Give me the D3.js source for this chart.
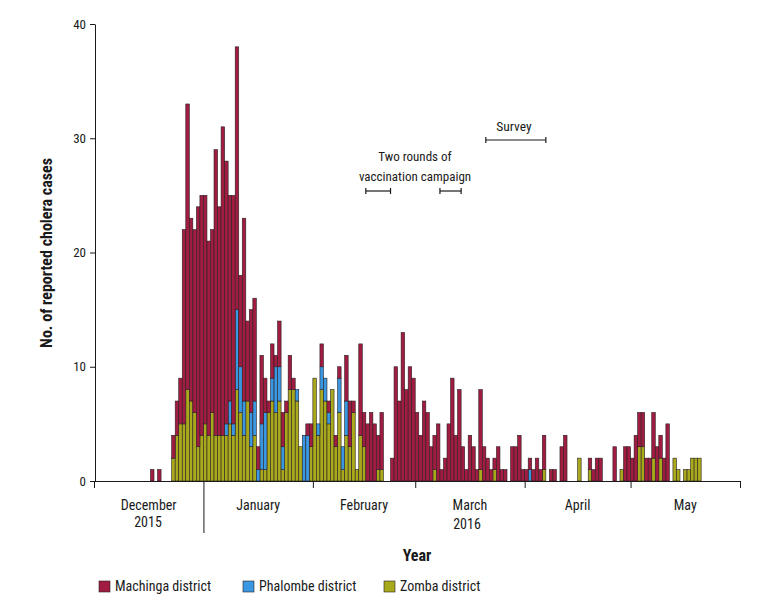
<!DOCTYPE html>
<html>
<head>
<meta charset="utf-8">
<script src="https://cdn.jsdelivr.net/npm/d3@7"></script>
<style>
    body { margin: 0; background: #fff; }
    text { font-family: "Liberation Sans Narrow", "Roboto Condensed", "DejaVu Sans Condensed", "Arial Narrow", sans-serif; fill: #1a1a1a; }
</style>
</head>
<body>
<svg id="chart" width="771" height="607"></svg>
<script>
// daily reported cases, one value per day from 1 Dec 2015 to 31 May 2016
const firstDay = "2015-12-01";

const machinga = [
    0,0,0,0,0,0,0,0,0,0,0,0,0,0,0,0,1,0,1,0,0,0,2,3,4,17,25,16,16,21,21,          // Dec
    20,17,16,25,20,27,23,18,20,23,8,16,7,9,9,2,6,3,1,3,1,4,3,1,3,1,0,0,0,1,2,     // Jan
    0,0,2,0,1,0,1,1,0,4,4,1,0,8,3,5,6,5,3,5,0,0,2,10,7,13,8,10,9,                 // Feb
    6,4,7,6,3,3,5,1,2,5,9,4,8,3,1,4,3,1,7,3,2,1,1,3,1,1,0,3,3,4,1,                // Mar
    1,1,1,2,1,3,0,1,1,0,3,4,0,0,0,0,0,0,1,1,2,2,0,0,0,3,0,0,3,3,                  // Apr
    2,4,3,3,2,2,4,3,2,2,5,0,0,0,0,0,0,0,0,0,0,0,0,0,0,0,0,0,0,0,0                 // May
];
const phalombe = [
    0,0,0,0,0,0,0,0,0,0,0,0,0,0,0,0,0,0,0,0,0,0,0,0,0,0,0,0,0,0,0,
    0,0,0,0,0,0,1,2,1,7,4,3,0,3,3,1,4,5,0,2,4,3,2,0,0,0,1,0,4,4,0,
    0,1,2,2,1,0,0,3,2,3,0,0,0,0,0,0,0,0,0,0,0,0,0,0,0,0,0,0,0,
    0,0,0,0,0,0,0,0,0,0,0,0,0,0,0,0,0,0,0,0,0,0,0,0,0,0,0,0,0,0,0,
    0,1,0,0,0,0,0,0,0,0,0,0,0,0,0,0,0,0,0,0,0,0,0,0,0,0,0,0,0,0,
    0,0,0,0,0,0,0,0,0,0,0,0,0,0,0,0,0,0,0,0,0,0,0,0,0,0,0,0,0,0,0
];
const zomba = [
    0,0,0,0,0,0,0,0,0,0,0,0,0,0,0,0,0,0,0,0,0,0,2,4,5,5,8,7,6,3,4,
    5,4,6,4,4,4,4,5,4,8,6,4,7,3,4,0,1,1,6,7,6,7,1,6,8,8,7,3,0,0,3,
    9,4,8,7,5,8,3,6,1,4,3,6,1,4,3,0,0,0,1,1,0,0,0,0,0,0,0,0,0,
    0,0,0,0,0,1,0,0,0,0,0,0,0,0,0,0,0,0,1,0,0,0,1,0,0,0,0,0,0,0,0,
    0,0,0,0,0,1,0,0,0,0,0,0,0,0,0,2,0,0,1,0,0,0,0,0,0,0,0,1,0,0,
    0,0,3,3,0,0,2,0,2,0,0,0,2,1,0,1,1,2,2,2,0,0,0,0,0,0,0,0,0,0,0
];

const districts = ["Machinga district", "Phalombe district", "Zomba district"];
const colours = ["#a01c40", "#3a98e2", "#a9a91c"];

const monthTicks = ["2015-12-01", "2016-01-01", "2016-02-01", "2016-03-01", "2016-04-01", "2016-05-01", "2016-06-01"];
const monthLabels = ["December", "January", "February", "March", "April", "May"];
const yTicks = [0, 10, 20, 30, 40];

const vaccinationRounds = [["2016-02-16", "2016-02-23"], ["2016-03-08", "2016-03-14"]];
const surveyPeriod = ["2016-03-21", "2016-04-07"];

const parse = d3.timeParse("%Y-%m-%d");
const svg = d3.select("#chart");

const x = d3.scaleTime().domain([parse(monthTicks[0]), parse(monthTicks[6])]).range([94, 740]);
const y = d3.scaleLinear().domain([0, 40]).range([481, 24]);

let start = parse(firstDay);
let rows = machinga.map((m, i) => {
    return { date: d3.timeDay.offset(start, i), machinga: m, phalombe: phalombe[i], zomba: zomba[i] };
});

// zomba at the bottom, machinga on top
let keys = ["zomba", "phalombe", "machinga"];
let series = d3.stack().keys(keys)(rows);

series.forEach((s, k) => {
    let colour = colours[2 - k];
    svg.append("g").selectAll("rect")
        .data(s.filter(d => d[1] > d[0]))
        .enter().append("rect")
        .attr("x", d => x(d.data.date))
        .attr("width", d => x(d3.timeDay.offset(d.data.date, 1)) - x(d.data.date))
        .attr("y", d => y(d[1]))
        .attr("height", d => y(d[0]) - y(d[1]))
        .attr("fill", colour)
        .attr("stroke", "#2b2024")
        .attr("stroke-width", 0.6);
});

// y axis
let yAxis = svg.append("g").attr("transform", "translate(95,0)")
    .call(d3.axisLeft(y).tickValues(yTicks).tickSize(5).tickSizeOuter(0));
yAxis.selectAll("text").attr("font-size", 13).attr("dx", -1);
yAxis.selectAll("line, path").attr("stroke", "#1a1a1a");

// x axis with month boundaries
let xAxis = svg.append("g").attr("transform", "translate(0,481)")
    .call(d3.axisBottom(x).tickValues(monthTicks.map(parse)).tickSize(7).tickSizeOuter(0).tickFormat(""));
xAxis.selectAll("line, path").attr("stroke", "#1a1a1a");
xAxis.selectAll(".tick line").filter(d => +d === +parse("2016-01-01")).attr("y2", 52);

monthLabels.forEach((m, i) => {
    let a = parse(monthTicks[i]), b = parse(monthTicks[i + 1]);
    svg.append("text")
        .attr("x", (x(a) + x(b)) / 2)
        .attr("y", 510)
        .attr("text-anchor", "middle")
        .attr("font-size", 14)
        .text(m);
});
svg.append("text").attr("x", 148).attr("y", 527).attr("text-anchor", "middle").attr("font-size", 14).text("2015");
svg.append("text").attr("x", 467).attr("y", 529).attr("text-anchor", "middle").attr("font-size", 14).text("2016");

svg.append("text").attr("x", 417).attr("y", 561).attr("text-anchor", "middle")
    .attr("font-size", 16).attr("font-weight", "bold").text("Year");

svg.append("text")
    .attr("transform", "translate(52,253) rotate(-90)")
    .attr("text-anchor", "middle")
    .attr("font-size", 16).attr("font-weight", "bold")
    .text("No. of reported cholera cases");

// campaign and survey periods
function period(range, yy) {
    let x1 = x(parse(range[0])), x2 = x(parse(range[1]));
    let g = svg.append("g").attr("stroke", "#1a1a1a").attr("stroke-width", 1.2);
    g.append("line").attr("x1", x1).attr("x2", x2).attr("y1", yy).attr("y2", yy);
    g.append("line").attr("x1", x1).attr("x2", x1).attr("y1", yy - 3).attr("y2", yy + 3);
    g.append("line").attr("x1", x2).attr("x2", x2).attr("y1", yy - 3).attr("y2", yy + 3);
}
vaccinationRounds.forEach(r => period(r, 191));
period(surveyPeriod, 140);

svg.append("text").attr("x", 514).attr("y", 131).attr("text-anchor", "middle").attr("font-size", 13.5).text("Survey");
svg.append("text").attr("x", 415).attr("y", 161).attr("text-anchor", "middle").attr("font-size", 13).text("Two rounds of");
svg.append("text").attr("x", 415).attr("y", 181).attr("text-anchor", "middle").attr("font-size", 13).text("vaccination campaign");

// legend
let legendX = [99, 243, 384];
districts.forEach((name, i) => {
    svg.append("rect").attr("x", legendX[i]).attr("y", 581).attr("width", 11).attr("height", 11)
        .attr("fill", colours[i]).attr("stroke", "#2b2024").attr("stroke-width", 0.6);
    svg.append("text").attr("x", legendX[i] + 16).attr("y", 591).attr("font-size", 14).text(name);
});
</script>
</body>
</html>
